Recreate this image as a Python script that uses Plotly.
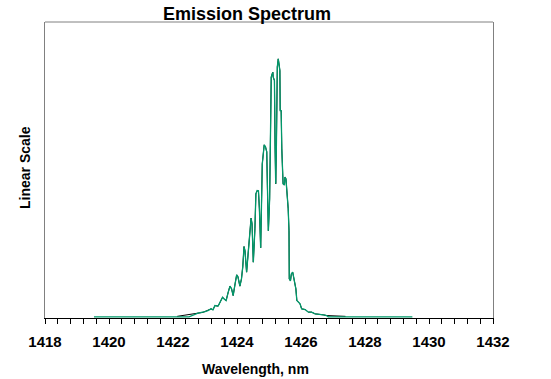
import plotly.graph_objects as go

# Emission spectrum (wavelength nm, intensity arb. units, peak = 100)
wavelength = [1422.13, 1422.53, 1422.78, 1422.94, 1423.00, 1423.09, 1423.19, 1423.25, 1423.31, 1423.41,
              1423.47, 1423.55, 1423.59, 1423.66, 1423.72, 1423.78, 1423.83, 1423.88, 1423.94, 1423.99,
              1424.03, 1424.09, 1424.14, 1424.18, 1424.22, 1424.25, 1424.30, 1424.36, 1424.41, 1424.44,
              1424.47, 1424.51, 1424.56, 1424.59, 1424.63, 1424.67, 1424.70, 1424.74, 1424.79, 1424.82,
              1424.85, 1424.89, 1424.93, 1424.95, 1424.98, 1425.02, 1425.04, 1425.06, 1425.07, 1425.10,
              1425.12, 1425.13, 1425.17, 1425.19, 1425.21, 1425.23, 1425.26, 1425.29, 1425.31, 1425.34,
              1425.35, 1425.38, 1425.40, 1425.44, 1425.48, 1425.50, 1425.53, 1425.56, 1425.60, 1425.625,
              1425.634, 1425.67, 1425.70, 1425.74, 1425.78, 1425.81, 1425.84, 1425.87, 1425.92, 1425.97,
              1426.02, 1426.13, 1426.23, 1426.33, 1426.44, 1426.59, 1426.70, 1426.80, 1427.12, 1427.39]
intensity = [0.19, 0.78, 1.43, 1.74, 2.05, 2.44, 3.10, 2.71, 4.38, 4.15,
             5.81, 7.64, 6.98, 6.32, 9.30, 11.9, 10.85, 8.26, 12.79, 16.28,
             15.50, 11.9, 14.73, 19.38, 27.25, 25.58, 17.33, 26.36, 37.21, 38.26,
             36.05, 21.2, 34.1, 47.67, 48.95, 48.84, 41.86, 26.74, 59.3, 64.46,
             66.67, 65.89, 63.95, 50.78, 33.33, 45.74, 79.96, 79.96, 92.91, 94.19,
             94.84, 93.02, 91.59, 65.89, 51.55, 65.12, 96.9, 100.0, 98.06, 95.47,
             79.96, 79.96, 65.12, 51.55, 51.16, 54.15, 53.49, 49.61, 41.86, 33.33,
             14.73, 13.95, 16.67, 17.33, 14.73, 12.79, 10.85, 6.32, 5.70, 5.04,
             3.10, 2.83, 1.82, 1.82, 1.16, 1.05, 0.78, 0.50, 0.27, 0.19]

# green trace runs along the baseline over a wider range
green_start, green_end = 1419.53, 1429.48
green_wl = [green_start, 1422.50] + wavelength[2:-2] + [1426.85, green_end]
green_int = [0.0, 0.0] + intensity[2:-2] + [0.0, 0.0]

x_ticks = [1418, 1420, 1422, 1424, 1426, 1428, 1430, 1432]
x_labels = [str(v) for v in x_ticks]

FONT = "Arial, Liberation Sans, sans-serif"

fig = go.Figure()
fig.add_trace(go.Scatter(x=wavelength, y=intensity, mode="lines",
                         line=dict(color="black", width=1), showlegend=False,
                         hoverinfo="skip"))
fig.add_trace(go.Scatter(x=green_wl, y=green_int, mode="lines",
                         line=dict(color="#00996A", width=1.3), showlegend=False))

fig.update_layout(
    width=551, height=379,
    margin=dict(l=45, r=58, t=22, b=61),
    paper_bgcolor="white", plot_bgcolor="white",
    showlegend=False,
    font=dict(family=FONT, color="black"),
    xaxis=dict(range=[1418, 1432], tickvals=x_ticks, ticktext=x_labels,
               ticks="outside", ticklen=5, tickcolor="black", tickwidth=1,
               minor=dict(dtick=0.4, tick0=1418, ticks="outside", ticklen=5,
                          tickcolor="black", tickwidth=1, showgrid=False),
               showline=True, linecolor="black", linewidth=1, mirror=False,
               showgrid=False, zeroline=False,
               tickfont=dict(family=FONT, size=15, color="black", weight="bold"),
               ticklabelstandoff=5),
    yaxis=dict(range=[-0.45, 114.3], showticklabels=False, ticks="",
               showline=True, linecolor="#808080", linewidth=1, mirror=True,
               showgrid=False, zeroline=False),
    shapes=[dict(type="line", xref="paper", yref="paper", x0=0, x1=1, y0=1, y1=1,
                 line=dict(color="#808080", width=1))],
    annotations=[
        dict(text="Emission Spectrum", xref="paper", yref="paper",
             x=(246.5 - 45) / 448, y=1 + 8 / 296, xanchor="center", yanchor="middle",
             showarrow=False, font=dict(family=FONT, size=18, color="black", weight="bold")),
        dict(text="Wavelength, nm", xref="paper", yref="paper",
             x=(255 - 45) / 448, y=-(369 - 318) / 296, xanchor="center", yanchor="middle",
             showarrow=False, font=dict(family=FONT, size=14, color="black", weight="bold")),
        dict(text="Linear Scale", xref="paper", yref="paper", textangle=-90,
             x=-(45 - 25) / 448, y=(318 - 168) / 296, xanchor="center", yanchor="middle",
             showarrow=False, font=dict(family=FONT, size=14, color="black", weight="bold")),
    ],
)

fig.write_html("out.html", config={"displayModeBar": False},
               post_script="document.body.style.margin='0';document.body.style.padding='0';")
